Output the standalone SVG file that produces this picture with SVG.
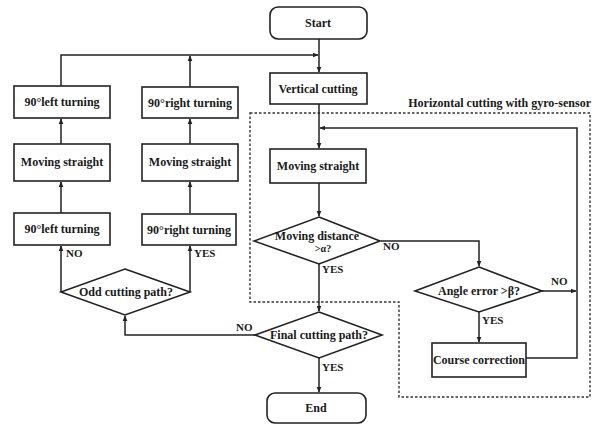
<svg xmlns="http://www.w3.org/2000/svg" width="594" height="428" viewBox="0 0 594 428">
<style>
.box{fill:#fff;stroke:#222;stroke-width:1.6}
.ln{fill:none;stroke:#222;stroke-width:1.5}
.dash{fill:none;stroke:#333;stroke-width:1.4;stroke-dasharray:2.5 2}
text{font-family:"Liberation Serif","DejaVu Serif",serif;font-weight:bold;fill:#1a1a1a}
.t{font-size:12px;text-anchor:middle}
.l{font-size:11px}
</style>
<defs>
<marker id="a" viewBox="0 0 8 8" refX="7" refY="4" markerWidth="6" markerHeight="6" orient="auto" markerUnits="userSpaceOnUse">
<path d="M0,0.8 L8,4 L0,7.2 Z" fill="#222"/>
</marker>
</defs>
<rect width="594" height="428" fill="#fff"/>
<path class="dash" d="M250,113 L590,113 L590,397 L399,397 L399,302 L250,302 Z"/>
<text x="591" y="107" style="font-size:12px;text-anchor:end">Horizontal cutting with gyro-sensor</text>
<g id="connectors">
<path class="ln" d="M319,39 L319,72" marker-end="url(#a)"/>
<path class="ln" d="M61,86 L61,55 L318,55" marker-end="url(#a)"/>
<path class="ln" d="M190,87 L190,56" marker-end="url(#a)"/>
<path class="ln" d="M61,144 L61,119" marker-end="url(#a)"/>
<path class="ln" d="M190,144 L190,119" marker-end="url(#a)"/>
<path class="ln" d="M61,213 L61,182" marker-end="url(#a)"/>
<path class="ln" d="M190,213 L190,182" marker-end="url(#a)"/>
<path class="ln" d="M61,292 L61,246" marker-end="url(#a)"/>
<path class="ln" d="M190,292 L190,246" marker-end="url(#a)"/>
<path class="ln" d="M319,104 L319,148" marker-end="url(#a)"/>
<path class="ln" d="M526,358 L577,358 L577,128 L320,128" marker-end="url(#a)"/>
<path class="ln" d="M319,183 L319,216" marker-end="url(#a)"/>
<path class="ln" d="M381,241 L479,241 L479,266" marker-end="url(#a)"/>
<path class="ln" d="M319,264 L319,311" marker-end="url(#a)"/>
<path class="ln" d="M542,291 L576,291" marker-end="url(#a)"/>
<path class="ln" d="M479,312 L479,342" marker-end="url(#a)"/>
<path class="ln" d="M255,335 L125,335 L125,316" marker-end="url(#a)"/>
<path class="ln" d="M319,358 L319,392" marker-end="url(#a)"/>
<text class="l" x="66" y="257">NO</text>
<text class="l" x="194" y="257">YES</text>
<text class="l" x="383" y="250">NO</text>
<text class="l" x="322" y="273">YES</text>
<text class="l" x="551" y="285">NO</text>
<text class="l" x="482" y="324">YES</text>
<text class="l" x="236" y="331">NO</text>
<text class="l" x="322" y="371">YES</text>
</g>
<g id="start"><rect class="box" x="270" y="7" width="97" height="32" rx="8"/><text class="t" x="318" y="27">Start</text></g>
<g id="vertical"><rect class="box" x="270" y="73" width="97" height="31"/><text class="t" x="318" y="93">Vertical cutting</text></g>
<g id="lturn1"><rect class="box" x="14" y="86" width="96" height="32"/><text class="t" x="62" y="106">90°left turning</text></g>
<g id="rturn1"><rect class="box" x="142" y="87" width="96" height="31"/><text class="t" x="190" y="107">90°right turning</text></g>
<g id="lstraight"><rect class="box" x="14" y="144" width="96" height="37"/><text class="t" x="62" y="166">Moving straight</text></g>
<g id="rstraight"><rect class="box" x="142" y="144" width="96" height="37"/><text class="t" x="190" y="166">Moving straight</text></g>
<g id="lturn2"><rect class="box" x="14" y="213" width="96" height="32"/><text class="t" x="62" y="233">90°left turning</text></g>
<g id="rturn2"><rect class="box" x="142" y="214" width="94" height="31"/><text class="t" x="189" y="234">90°right turning</text></g>
<g id="odd"><path class="box" d="M125,269 L190,292 L125,315 L61,292 Z"/><text class="t" x="126" y="296">Odd cutting path?</text></g>
<g id="mstraight"><rect class="box" x="270" y="149" width="96" height="34"/><text class="t" x="318" y="170">Moving straight</text></g>
<g id="mdist"><path class="box" d="M319,217 L380,241 L319,264 L254,241 Z"/><text class="t" x="317" y="240">Moving distance</text><text class="t" x="323" y="252" style="font-size:10px">&gt;α?</text></g>
<g id="angle"><path class="box" d="M479,267 L542,291 L479,312 L415,291 Z"/><text class="t" x="479" y="295">Angle error &gt;β?</text></g>
<g id="course"><rect class="box" x="432" y="343" width="94" height="34"/><text class="t" x="479" y="364">Course correction</text></g>
<g id="final"><path class="box" d="M319,312 L382,335 L319,358 L255,335 Z"/><text class="t" x="319" y="339">Final cutting path?</text></g>
<g id="end"><rect class="box" x="267" y="393" width="99" height="30" rx="8"/><text class="t" x="316" y="412">End</text></g>
</svg>
